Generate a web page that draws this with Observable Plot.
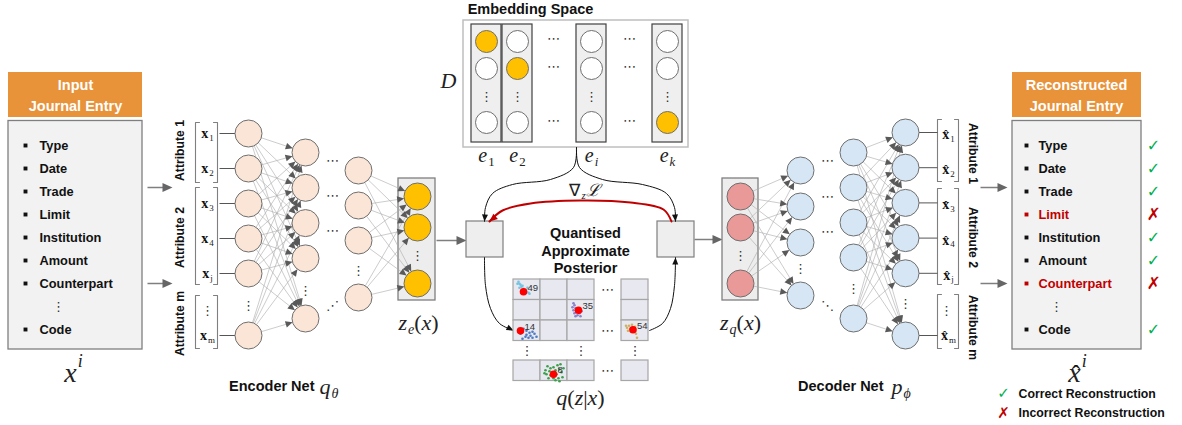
<!DOCTYPE html>
<html><head><meta charset="utf-8">
<script src="https://cdn.jsdelivr.net/npm/d3@7"></script>
<script src="https://cdn.jsdelivr.net/npm/@observablehq/plot@0.6"></script>
<style>body{margin:0;background:#fff}svg{display:block}</style>
</head><body><div id="chart"></div>
<script>
// ---------------- DATA ----------------
const journalFields = ["Type","Date","Trade","Limit","Institution","Amount","Counterpart","⋮","Code"];
const reconstruction = ["ok","ok","ok","bad","ok","ok","bad","","ok"];
const attributeLabels = ["Attribute 1","Attribute 2","Attribute m"];
const featureSubscripts = ["1","2","3","4","j","","m"];   // "" = vertical ellipsis
const encoderLayerSizes = [6,5,4,3];
const decoderLayerSizes = [3,4,5,6];
const codebookNames = ["1","2","i","k"];
const codebookActive = [0,1,-1,2];
const posteriorLabels = ["49","35","14","54","8"];
const posteriorRow = [0,1,2,2,3];
const posteriorCol = [0,2,0,3,1];
const posteriorColors = ["#74c3e0","#8c80c8","#4f7bc5","#cdb063","#3e9f4b"];
const cluster49 = [[-5,-10],[-4,-8],[-3,-7],[-2,-5],[-4,-4],[0,-3],[-1,-6],[2,-2],[3,0],[5,1],[6,2],[-2,1],[1,2],[4,-4],[-6,-8]];
const cluster35 = [[-4,-5],[-3,-2],[-5,0],[-2,2],[-4,3],[-1,5],[-3,6],[1,3],[2,6],[-6,-3],[0,-1],[3,1],[-5,-7]];
const cluster14 = [[3,-2],[6,0],[9,2],[12,1],[14,3],[10,5],[5,6],[12,7],[16,6],[8,7],[2,8],[6,4],[0,3]];
const cluster54 = [[-4,-4],[-6,-2],[-3,-1],[-1,-5],[-5,1],[2,-3],[3,4],[4,8],[-2,2],[0,-2],[-7,-4]];
const cluster8  = [[-6,-8],[-3,-6],[0,-7],[4,-9],[7,-10],[-8,-4],[-4,-3],[2,-4],[6,-5],[-7,0],[-3,1],[3,0],[8,-2],[-5,4],[0,4],[5,4],[9,3],[-9,-1],[10,-6],[2,6],[6,7]];
const clusters = [cluster49, cluster35, cluster14, cluster54, cluster8];
const legendLabels = ["Correct Reconstruction","Incorrect Reconstruction"];

// ---------------- LAYOUT ----------------
const W = 1182, H = 425;
const SANS = "Liberation Sans", SERIF = "Liberation Serif";
const GRAY = "#7f7f7f", RED = "#c00000", GREEN = "#00b050";
const R = 13.5;
const encSpec = [
  {x:248, y0:133, step:35, dotsY:305, lastY:335},
  {x:305, y0:152, step:35.3, dotsY:290, lastY:318},
  {x:358, y0:170, step:35, dotsY:270, lastY:297},
  {x:417, y0:196, step:31, dotsY:255, lastY:283}
];
const decSpec = [
  {x:740, y0:196, step:31, dotsY:255, lastY:283},
  {x:800, y0:170, step:36, dotsY:268, lastY:295},
  {x:853, y0:152, step:35, dotsY:288, lastY:318},
  {x:905, y0:132, step:35.2, dotsY:303, lastY:335}
];
function layer(spec, n) {
  const a = d3.range(n - 1).map(i => ({x: spec.x, y: spec.y0 + i * spec.step}));
  a.push({x: spec.x, y: spec.lastY});
  return a;
}
const enc = encSpec.map((s, i) => layer(s, encoderLayerSizes[i]));
const dec = decSpec.map((s, i) => layer(s, decoderLayerSizes[i]));

function edgesBetween(A, B, r) {
  const out = [];
  for (const a of A) for (const b of B) {
    const dx = b.x - a.x, dy = b.y - a.y, L = Math.hypot(dx, dy), ux = dx / L, uy = dy / L;
    out.push({x1: a.x + ux * r, y1: a.y + uy * r, x2: b.x - ux * r, y2: b.y - uy * r, ux, uy});
  }
  return out;
}
let hid = 0;
function tri(x, y, ux, uy, len, hw) {
  const id = hid++, bx = x - ux * len, by = y - uy * len;
  return [{id, x, y}, {id, x: bx - uy * hw, y: by + ux * hw}, {id, x: bx + uy * hw, y: by - ux * hw}];
}
const netEdges = [
  ...edgesBetween(enc[0], enc[1], R), ...edgesBetween(enc[2], enc[3], R),
  ...edgesBetween(dec[0], dec[1], R), ...edgesBetween(dec[2], dec[3], R)
];
const netHeads = netEdges.flatMap(e => tri(e.x2, e.y2, e.ux, e.uy, 7, 3.3));

// straight gray arrows
const grayArrows = [
  {x1:147, y1:187, x2:172, y2:187}, {x1:147, y1:283, x2:172, y2:283},
  {x1:436, y1:240, x2:466, y2:240}, {x1:694, y1:239, x2:722, y2:239},
  {x1:980, y1:187, x2:1007, y2:187}, {x1:980, y1:283, x2:1007, y2:283}
];
const grayHeads = grayArrows.flatMap(a => tri(a.x2, a.y2, 1, 0, 10, 4.5));

// curved arrows
const blackCurves = [
  [[576,147],[573,167],[550,179],[512,184],[492,193],[485,207],[484,221]],
  [[576,147],[579,167],[602,179],[642,184],[666,193],[674,207],[675,221]],
  [[484,257],[485,285],[490,308],[499,323],[513,330]],
  [[649,330],[662,323],[670,308],[674,285],[675,257]]
];
const redCurves = [[[671,221],[663,209],[630,202],[580,200],[530,203],[502,210],[489,221]]];
function curvePts(cs) { return cs.flatMap((c, i) => c.map(([x, y]) => ({id: i, x, y}))); }
function curveHeads(cs, len, hw) {
  return cs.flatMap(c => {
    const [x0, y0] = c[c.length - 2], [x1, y1] = c[c.length - 1];
    const L = Math.hypot(x1 - x0, y1 - y0);
    return tri(x1, y1, (x1 - x0) / L, (y1 - y0) / L, len, hw);
  });
}

// brackets
function bracketPts(xl, xr, groups) {
  const pts = [];
  groups.forEach(([t, b], i) => {
    [[xl + 4, t], [xl, t], [xl, b], [xl + 4, b]].forEach(([x, y]) => pts.push({id: "l" + i, x, y}));
    [[xr - 4, t], [xr, t], [xr, b], [xr - 4, b]].forEach(([x, y]) => pts.push({id: "r" + i, x, y}));
  });
  return pts;
}
const brackets = [
  ...bracketPts(195, 217, [[122,182],[187,284],[295,348]]).map(d => ({...d, id: "e" + d.id})),
  ...bracketPts(937, 958, [[119,181],[188,284],[294,348]]).map(d => ({...d, id: "d" + d.id}))
];
const stubs = [
  ...enc[0].map(n => ({x1: 219, x2: n.x - R, y: n.y})),
  ...dec[3].map(n => ({x1: n.x + R, x2: 937, y: n.y}))
];

// math label layout
const ctx = document.createElement("canvas").getContext("2d");
function fontOf(st, s) { return (st === "i" ? "italic " : st === "b" ? "bold " : "") + s + "px \"" + SERIF + "\""; }
const mathI = [], mathR = [], mathB = [], hats = [];
function addMath(cx, cy, size, parts, anchor = "middle") {
  const items = parts.map(([t, st, pos, hat]) => {
    const s = pos ? size * 0.64 : size; ctx.font = fontOf(st, s);
    return {t, st, pos, hat, s, w: ctx.measureText(t).width};
  });
  const total = d3.sum(items, d => d.w + (d.pos ? 1 : 0));
  let x = anchor === "middle" ? cx - total / 2 : cx;
  for (const it of items) {
    const dy = it.pos === "sub" ? size * 0.3 : it.pos === "sup" ? -size * 0.42 : 0;
    if (it.pos) x += 1;
    const d = {text: it.t, x, y: cy + dy, size: it.s};
    (it.st === "i" ? mathI : it.st === "b" ? mathB : mathR).push(d);
    if (it.hat) hats.push({x: x + it.w / 2 + (it.st === "i" ? size * 0.05 : 0), y: cy + size * 0.04, size: size * 0.9});
    x += it.w;
  }
}
addMath(73, 373, 28, [["x","i"],["i","i","sup"]]);
addMath(1077, 373, 28, [["x","i",null,true],["i","i","sup"]]);
addMath(418, 322, 22, [["z","i"],["e","i","sub"],["(","r"],["x","i"],[")","r"]]);
addMath(740, 322, 22, [["z","i"],["q","i","sub"],["(","r"],["x","i"],[")","r"]]);
addMath(580, 397, 22, [["q","i"],["(","r"],["z","i"],["|","r"],["x","i"],[")","r"]]);
addMath(448, 80, 22, [["D","i"]]);
const codeX = [486, 517, 591, 667];
codebookNames.forEach((n, i) => addMath(codeX[i], 155, 20, [["e","i"],[n, /\d/.test(n) ? "r" : "i", "sub"]]));
addMath(584, 190, 17, [["∇","r"],["z","i","sub"],["ℒ","i"]]);
addMath(319, 386, 22, [["q","i"],["θ","i","sub"]], "start");
addMath(891, 386, 22, [["p","i"],["ϕ","i","sub"]], "start");
const featYs = [...enc[0].slice(0, 5).map(d => d.y), 310, enc[0][5].y];
featureSubscripts.forEach((s, i) => {
  if (s) addMath(207, featYs[i], 14, [["x","b"],[s,"r","sub"]]);
});
const featYsD = [...dec[3].slice(0, 5).map(d => d.y + 2), 310, dec[3][5].y];
featureSubscripts.forEach((s, i) => {
  if (s) addMath(948, featYsD[i], 14, [["x","b",null,true],[s,"r","sub"]]);
});

// journal entries
const FY0 = 145, FSTEP = 23;
const fields = journalFields.map((f, i) => ({f, i, y: FY0 + i * FSTEP, st: reconstruction[i]}));
const bulletFields = fields.filter(d => d.f !== "⋮");

// embedding
const embRows = [41, 68, 122];
const embCircles = codeX.flatMap((x, c) => embRows.map((y, r) => ({x, y, on: codebookActive[c] === r})));
const embCols = codeX.map(x => ({x1: x - 15, x2: x + 15}));

// posterior grid
const gColX = [513, 540, 567, 621], gRowY = [279, 299.5, 320, 360], CW = 27, CH = 20.5;
const gridCells = gColX.flatMap(x => gRowY.map(y => ({x1: x, x2: x + CW, y1: y, y2: y + CH})));
const centroidOff = [[-3.5, 2], [-2.5, 0], [-6.5, 0], [-2, -1], [-0.5, 3.5]];
const centroids = posteriorLabels.map((l, k) => ({
  l, color: posteriorColors[k],
  x: gColX[posteriorCol[k]] + CW / 2 + centroidOff[k][0],
  y: gRowY[posteriorRow[k]] + CH / 2 + centroidOff[k][1]
}));
const clusterPts = centroids.flatMap((c, k) => clusters[k].map(([dx, dy]) => ({x: c.x + dx, y: c.y + dy, color: c.color})));

// dots / ellipses
const hEll = [
  ...[160, 195, 230].map(y => ({x: 332, y})), ...[160, 196, 231].map(y => ({x: 827, y})),
  ...[38, 66, 120].flatMap(y => [{x: 553, y}, {x: 629, y}]),
  ...[0, 2, 3].map(r => ({x: 607, y: gRowY[r] + CH / 2}))
];
const vEll = [
  ...enc.map((l, i) => ({x: encSpec[i].x, y: encSpec[i].dotsY})),
  ...dec.map((l, i) => ({x: decSpec[i].x, y: decSpec[i].dotsY})),
  ...codeX.map(x => ({x, y: 96})),
  ...[0, 2, 3].map(c => ({x: gColX[c] + CW / 2, y: 350})),
  {x: 207, y: 310}, {x: 946, y: 310}
];

const xy = {x: "x", y: "y"};
const chart = Plot.plot({
  width: W, height: H, margin: 0,
  x: {domain: [0, W], range: [0, W], axis: null},
  y: {domain: [0, H], range: [0, H], axis: null},
  style: {background: "#fff", overflow: "visible"},
  marks: [
    // journal boxes
    Plot.rect([{x1: 8, x2: 142}, {x1: 1012, x2: 1141}], {x1: "x1", x2: "x2", y1: 72, y2: 117, fill: "#e8923a"}),
    Plot.rect([{x1: 8, x2: 142}, {x1: 1012, x2: 1141}], {x1: "x1", x2: "x2", y1: 120.5, y2: 349, fill: "#f2f2f2", stroke: GRAY, strokeWidth: 1.3}),
    Plot.text([{t: "Input", x: 75, y: 85}, {t: "Journal Entry", x: 75, y: 106}, {t: "Reconstructed", x: 1076, y: 85}, {t: "Journal Entry", x: 1076, y: 106}],
      {x: "x", y: "y", text: "t", fill: "#fff", fontSize: 14.5, fontWeight: "bold", fontFamily: SANS}),
    Plot.dot(bulletFields, {x: 25, y: "y", symbol: "square", r: 2.2, fill: "#111"}),
    Plot.dot(bulletFields, {x: 1026, y: "y", symbol: "square", r: 2.2, fill: d => d.st === "bad" ? RED : "#111"}),
    Plot.text(bulletFields, {x: 39, y: "y", text: "f", textAnchor: "start", fontSize: 12.8, fontWeight: "bold", fontFamily: SANS, fill: "#111"}),
    Plot.text(bulletFields, {x: 1038, y: "y", text: "f", textAnchor: "start", fontSize: 12.8, fontWeight: "bold", fontFamily: SANS, fill: d => d.st === "bad" ? RED : "#111"}),
    Plot.text(fields.filter(d => d.f === "⋮"), {x: 58, y: "y", text: "f", fontSize: 13, fontFamily: "DejaVu Sans", fill: "#333"}),
    Plot.text(fields.filter(d => d.f === "⋮"), {x: 1056, y: "y", text: "f", fontSize: 13, fontFamily: "DejaVu Sans", fill: "#333"}),
    Plot.text(fields.filter(d => d.st === "ok"), {x: 1153, y: "y", text: () => "✓", fontSize: 16, fontFamily: "DejaVu Sans", fill: GREEN}),
    Plot.text(fields.filter(d => d.st === "bad"), {x: 1153, y: "y", text: () => "✗", fontSize: 17, fontWeight: "bold", fontFamily: "DejaVu Sans", fill: RED}),
    // legend
    Plot.text([{t: "✓", y: 393, c: GREEN}, {t: "✗", y: 413, c: RED}], {x: 1003, y: "y", text: "t", fill: "c", fontSize: 15, fontWeight: "bold", fontFamily: "DejaVu Sans"}),
    Plot.text(legendLabels.map((t, i) => ({t, y: 394 + i * 19})), {x: 1018, y: "y", text: "t", textAnchor: "start", fontSize: 12.3, fontWeight: "bold", fontFamily: SANS, fill: "#111"}),

    // straight arrows
    Plot.link(grayArrows, {x1: "x1", y1: "y1", x2: d => d.x2 - 6, y2: "y2", stroke: GRAY, strokeWidth: 1.5}),
    Plot.line(grayHeads, {x: "x", y: "y", z: "id", fill: "#666", stroke: "none", curve: "linear-closed"}),

    // attribute labels
    Plot.text(attributeLabels.map((t, i) => ({t, y: [150, 237, 323][i]})), {x: 180, y: "y", text: "t", rotate: -90, fontSize: 12.2, fontWeight: "bold", fontFamily: SANS, fill: "#111"}),
    Plot.text(attributeLabels.map((t, i) => ({t, y: [153, 237, 327][i]})), {x: 972, y: "y", text: "t", rotate: 90, fontSize: 12.2, fontWeight: "bold", fontFamily: SANS, fill: "#111"}),
    Plot.line(brackets, {x: "x", y: "y", z: "id", stroke: GRAY, strokeWidth: 1.1}),
    Plot.link(stubs, {x1: "x1", x2: "x2", y1: "y", y2: "y", stroke: "#555", strokeWidth: 1}),

    // latent boxes
    Plot.rect([{x1: 398, x2: 435}, {x1: 722, x2: 758}], {x1: "x1", x2: "x2", y1: 178, y2: 300, fill: "#ededed", stroke: GRAY, strokeWidth: 1.3}),
    Plot.rect([{x1: 466, x2: 503}, {x1: 657, x2: 694}], {x1: "x1", x2: "x2", y1: 221, y2: 257, fill: "#eeeeee", stroke: GRAY, strokeWidth: 1.2}),

    // network edges & nodes
    Plot.link(netEdges, {x1: "x1", y1: "y1", x2: "x2", y2: "y2", stroke: "#a9a9a9", strokeWidth: 0.6}),
    Plot.line(netHeads, {x: "x", y: "y", z: "id", fill: "#595959", stroke: "none", curve: "linear-closed"}),
    Plot.dot([...enc[0], ...enc[1], ...enc[2]], {...xy, r: R, fill: "#fbe5d6", stroke: "#6f6f6f", strokeWidth: 1}),
    Plot.dot(enc[3], {...xy, r: R, fill: "#ffc000", stroke: "#6f6f6f", strokeWidth: 1}),
    Plot.dot(dec[0], {...xy, r: R, fill: "#ea9999", stroke: "#6f6f6f", strokeWidth: 1}),
    Plot.dot([...dec[1], ...dec[2], ...dec[3]], {...xy, r: R, fill: "#d6e6f5", stroke: "#6f6f6f", strokeWidth: 1}),

    // embedding space
    Plot.rect([{}], {x1: 463, x2: 688, y1: 20, y2: 147, fill: "#fff", stroke: "#bfbfbf", strokeWidth: 1.5}),
    Plot.rect(embCols, {x1: "x1", x2: "x2", y1: 24, y2: 142, fill: "#efefef", stroke: "#404040", strokeWidth: 1.2}),
    Plot.dot(embCircles, {...xy, r: 11, fill: d => d.on ? "#ffc000" : "#fff", stroke: "#6f6f6f", strokeWidth: 1}),
    Plot.text([{t: "Embedding Space"}], {x: 530, y: 9, text: "t", fontSize: 14.5, fontWeight: "bold", fontFamily: SANS, fill: "#111"}),

    // curves
    Plot.line(curvePts(blackCurves), {x: "x", y: "y", z: "id", stroke: "#111", strokeWidth: 1, curve: "catmull-rom"}),
    Plot.line(curveHeads(blackCurves, 7, 3), {x: "x", y: "y", z: "id", fill: "#111", stroke: "none", curve: "linear-closed"}),
    Plot.line(curvePts(redCurves), {x: "x", y: "y", z: "id", stroke: RED, strokeWidth: 2, curve: "catmull-rom"}),
    Plot.line(curveHeads(redCurves, 8, 3.5), {x: "x", y: "y", z: "id", fill: RED, stroke: "none", curve: "linear-closed"}),

    // posterior
    Plot.text(["Quantised", "Approximate", "Posterior"].map((t, i) => ({t, y: 233 + i * 17.5})), {x: 585, y: "y", text: "t", fontSize: 14.5, fontWeight: "bold", fontFamily: SANS, fill: "#111"}),
    Plot.rect(gridCells, {x1: "x1", x2: "x2", y1: "y1", y2: "y2", fill: "#e8e8f0", stroke: "#a6a6a6", strokeWidth: 1.2}),
    Plot.dot(clusterPts, {...xy, r: 1.3, fill: "color"}),
    Plot.dot(centroids, {...xy, r: 3.8, fill: "#ff0000"}),
    Plot.text(centroids, {x: d => d.x + 4, y: d => d.y - 4, text: "l", textAnchor: "start", fontSize: 9.5, fontFamily: SANS, fill: "#333"}),

    // ellipses
    Plot.text(hEll, {...xy, text: () => "⋯", fontSize: 13, fontFamily: "DejaVu Sans", fill: "#333"}),
    Plot.text(vEll, {...xy, text: () => "⋮", fontSize: 13, fontFamily: "DejaVu Sans", fill: "#333"}),
    Plot.text([{x: 332, y: 305, t: "⋰"}, {x: 827, y: 305, t: "⋱"}], {...xy, text: "t", fontSize: 13, fontFamily: "DejaVu Sans", fill: "#333"}),

    // net labels
    Plot.text([{t: "Encoder Net", x: 314}, {t: "Decoder Net", x: 883}], {x: "x", y: 386, text: "t", textAnchor: "end", fontSize: 14.5, fontWeight: "bold", fontFamily: SANS, fill: "#111"}),

    // math
    Plot.text(mathI, {...xy, text: "text", fontSize: d => d.size, fontStyle: "italic", fontFamily: SERIF, textAnchor: "start", fill: "#222"}),
    Plot.text(mathR, {...xy, text: "text", fontSize: d => d.size, fontFamily: SERIF, textAnchor: "start", fill: "#222"}),
    Plot.text(mathB, {...xy, text: "text", fontSize: d => d.size, fontWeight: "bold", fontFamily: SERIF, textAnchor: "start", fill: "#111"}),
    Plot.text(hats, {...xy, text: () => "ˆ", fontSize: d => d.size, fontFamily: SERIF, fill: "#111"})
  ]
});
document.getElementById("chart").append(chart);
</script>
</body></html>
